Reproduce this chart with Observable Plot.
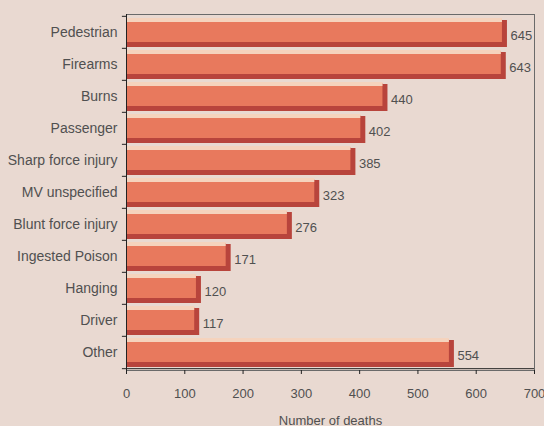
<!DOCTYPE html>
<html>
<head>
<meta charset="utf-8">
<script src="https://cdn.jsdelivr.net/npm/d3@7"></script>
<script src="https://cdn.jsdelivr.net/npm/@observablehq/plot@0.6"></script>
<style>
  html, body { margin: 0; padding: 0; background: #e9d9d1; }
  #chart { width: 544px; height: 426px; }
</style>
</head>
<body>
<div id="chart"></div>
<script>
const categories = ["Pedestrian", "Firearms", "Burns", "Passenger", "Sharp force injury", "MV unspecified", "Blunt force injury", "Ingested Poison", "Hanging", "Driver", "Other"];
const deaths = [645, 643, 440, 402, 385, 323, 276, 171, 120, 117, 554];
const xTicks = [0, 100, 200, 300, 400, 500, 600, 700];
const xLabel = "Number of deaths";

const data = categories.map((c, i) => ({cause: c, deaths: deaths[i]}));

const W = 544, H = 426, mT = 14, mB = 56, mL = 126, mR = 10;
const bw = (H - mT - mB) / categories.length;
const boundaries = categories.map((c) => ({cause: c, dy: -bw / 2}));

const chart = Plot.plot({
  width: W, height: H,
  marginTop: mT, marginBottom: mB, marginLeft: mL, marginRight: mR,
  style: {background: "#e9d9d1", fontFamily: "'Liberation Sans', Arial, sans-serif", fontSize: "14px", color: "#505050"},
  x: {domain: [0, 700]},
  y: {domain: categories, padding: 0},
  marks: [
    Plot.frame({stroke: "#6a6a6a"}),
    Plot.barX(data, {y: "cause", x: "deaths", fill: "#b8443c", insetTop: 4, insetBottom: 1, insetRight: -5}),
    Plot.barX(data, {y: "cause", x: "deaths", fill: "#e8795d", insetTop: 3, insetBottom: 6}),
    Plot.barX(data, {y: "cause", x: "deaths", fill: "#f5d3bd", insetTop: 2, insetBottom: 26}),
    Plot.text(data, {y: "cause", x: "deaths", text: (d) => String(d.deaths), dx: 8, dy: 3, textAnchor: "start", fill: "#505050", fontSize: 13}),
    Plot.axisX({ticks: xTicks, tickSize: 4, tickPadding: 14, fontSize: 13, label: xLabel, labelAnchor: "center", labelArrow: "none", labelOffset: 54, stroke: "#222", fill: "#505050"}),
    Plot.axisY({tickSize: 0, tickPadding: 9, label: null, fill: "#505050"}),
    Plot.ruleX([0], {stroke: "#222"}),
    ...boundaries.map((b) => Plot.ruleY([b], {y: "cause", x1: -7, x2: 0, dy: b.dy, stroke: "#222"})),
    Plot.ruleY([categories[categories.length - 1]], {y: (d) => d, x1: -7, x2: 700, dy: bw / 2, stroke: "#222"})
  ]
});
document.getElementById("chart").appendChild(chart);
</script>
</body>
</html>
